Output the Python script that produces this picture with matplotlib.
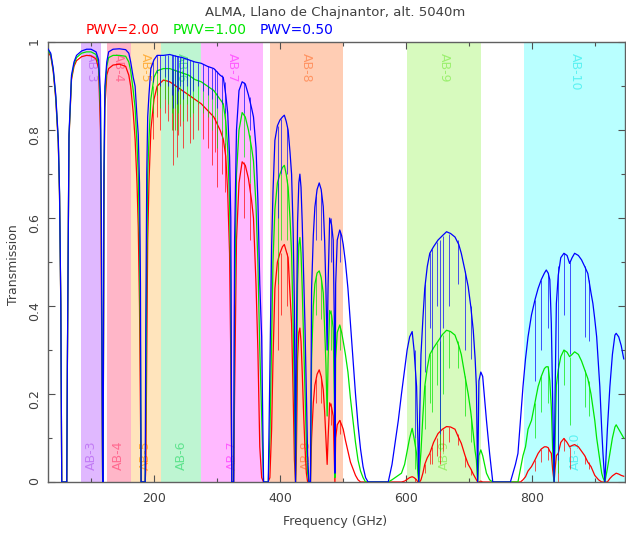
import numpy as np
import matplotlib.pyplot as plt

# ALMA band edges (GHz), names and colours
band_names = ["AB-3", "AB-4", "AB-5", "AB-6", "AB-7", "AB-8", "AB-9", "AB-10"]
band_lo = [84, 125, 163, 211, 275, 385, 602, 787]
band_hi = [116, 163, 211, 275, 373, 500, 720, 950]
band_fill = ["#e0b8ff", "#ffb6c8", "#ffe4bc", "#bef5d2", "#ffb9ff", "#ffcdb4", "#d7fabe", "#b9ffff"]
band_text = ["#c27cf5", "#ff6a90", "#ffb040", "#5fe38e", "#ff5cff", "#ff9463", "#9cf070", "#5cf2f2"]

# transmission (freq in GHz)
freq = [32, 36, 40, 44, 48, 50, 52, 53.5, 61.5, 62.4, 65, 69, 73, 77, 85, 93, 100, 108, 112, 115,
        116.5, 118.3, 119.2, 120.5, 122, 125, 128, 135, 145, 155, 160, 163, 167, 170, 173, 175, 177, 178.5, 179.5, 186,
        187, 188.5, 190, 192, 195, 200, 205, 215, 225, 235, 245, 255, 265, 275, 285, 295, 305, 310, 314, 317,
        320, 322, 323.5, 326.5, 328, 331, 335, 340, 345, 350, 355, 358, 362, 365, 368, 371, 374, 381.5, 384, 386.8,
        389, 392, 396, 400, 404, 407, 410, 413, 416, 418.5, 421, 423, 424.8, 426, 428, 430, 431.7, 433.5, 435.4, 437.5,
        439.7, 442, 444, 446, 448.5, 450.3, 453, 455.5, 459, 462.4, 465.5, 468.8, 471, 473, 475, 476.5, 479, 482, 484.6, 486.5,
        487.3, 488.5, 491, 495, 498, 500.5, 504, 508, 512, 516, 520, 524, 528, 532, 536, 540, 572, 578, 583, 588,
        593, 598, 602, 606, 610, 613, 617, 619, 620.5, 622, 624, 627, 630, 634, 638, 644, 651, 658, 664.6, 671,
        678, 684, 688, 694, 699, 703, 707, 710, 712, 714, 716, 719, 722, 725, 728, 733, 738, 766, 770, 774,
        778, 782, 786, 790, 794, 799.5, 805, 810, 815, 820, 823, 826, 828.6, 831, 833, 835.4, 837, 839, 842, 846,
        851, 856, 860, 864, 868, 874, 879, 884, 889, 894, 897, 900, 903, 906, 908, 911, 913, 916, 920, 924,
        928, 932, 934, 938, 942, 946]

t_pwv050 = [.984, .975, .94, .88, .78, .66, .41, 0, 0, .26, .79, .925, .955, .97, .98, .984, .984, .978, .96, .88,
            .60, 0, 0, .70, .90, .955, .978, .984, .985, .983, .975, .955, .92, .90, .83, .79, .68, .45, 0, 0,
            .35, .70, .83, .88, .94, .96, .97, .97, .972, .968, .965, .96, .955, .952, .945, .94, .925, .92, .88, .84,
            .74, .60, 0, 0, .55, .80, .89, .91, .905, .88, .85, .83, .76, .64, .45, .33, 0, 0, .25, .535,
            .66, .777, .81, .823, .83, .834, .82, .80, .75, .70, .57, .40, 0, .30, .59, .68, .70, .67, .59, .48,
            .36, .20, .06, 0, 0, .44, .56, .625, .665, .68, .665, .626, .55, .44, .30, .45, .60, .585, .55, .35,
            .02, .45, .55, .573, .56, .54, .50, .44, .36, .28, .20, .13, .075, .035, .01, 0, 0, .04, .09, .14,
            .20, .255, .30, .33, .342, .30, .217, .10, 0, .15, .29, .37, .44, .49, .52, .535, .55, .56, .569, .565,
            .557, .54, .52, .48, .444, .40, .345, .28, .217, 0, .23, .25, .24, .19, .14, .065, 0, 0, .02, .04,
            .065, .14, .217, .28, .33, .38, .414, .44, .46, .475, .482, .475, .46, .36, .20, 0, .20, .406, .47, .51,
            .52, .515, .497, .51, .52, .515, .505, .49, .474, .43, .406, .37, .33, .26, .217, .12, .065, 0, .12, .217,
            .29, .334, .338, .33, .31, .28]

t_pwv100 = [.982, .972, .937, .875, .775, .655, .405, 0, 0, .255, .785, .92, .95, .965, .975, .978, .978, .972, .95, .85,
            .55, 0, 0, .68, .88, .945, .965, .97, .97, .968, .955, .935, .89, .85, .77, .70, .55, .30, 0, 0,
            .15, .50, .70, .78, .87, .92, .935, .94, .94, .935, .93, .925, .915, .91, .90, .89, .87, .86, .82, .76,
            .64, .45, 0, 0, .40, .70, .80, .84, .83, .80, .76, .73, .63, .50, .30, .15, 0, 0, .10, .33,
            .50, .62, .68, .70, .715, .72, .70, .67, .60, .52, .36, .20, 0, .15, .45, .54, .556, .52, .44, .33,
            .21, .09, .02, 0, 0, .28, .40, .45, .475, .48, .465, .43, .35, .27, .15, .28, .39, .38, .35, .18,
            .01, .28, .34, .357, .34, .32, .29, .25, .19, .14, .09, .05, .025, .01, 0, 0, 0, .005, .01, .015,
            .02, .04, .07, .10, .122, .10, .065, .02, 0, .03, .07, .15, .217, .26, .29, .305, .32, .335, .345, .342,
            .334, .31, .29, .24, .20, .16, .11, .07, .05, 0, .06, .073, .06, .04, .02, .005, 0, 0, 0, 0,
            0, .03, .06, .08, .12, .14, .18, .217, .24, .258, .262, .262, .23, .17, .08, 0, .10, .22, .255, .285,
            .30, .295, .285, .29, .296, .29, .275, .255, .235, .20, .17, .14, .10, .07, .05, .02, .01, 0, .03, .065,
            .10, .125, .13, .12, .11, .10]

t_pwv200 = [.978, .968, .933, .87, .77, .65, .40, 0, 0, .25, .78, .915, .945, .958, .967, .970, .969, .962, .94, .80,
            .45, 0, 0, .62, .85, .925, .94, .948, .95, .945, .925, .90, .84, .78, .68, .58, .40, .15, 0, 0,
            .03, .30, .55, .68, .80, .87, .90, .914, .91, .90, .89, .88, .87, .86, .845, .83, .80, .78, .74, .66,
            .52, .28, 0, 0, .20, .55, .68, .728, .72, .69, .64, .60, .45, .30, .08, .01, 0, 0, .01, .12,
            .28, .44, .50, .52, .535, .54, .525, .51, .43, .36, .20, .05, 0, .05, .28, .34, .35, .32, .25, .16,
            .08, .02, 0, 0, 0, .10, .18, .22, .245, .255, .24, .21, .16, .10, .04, .10, .18, .17, .15, .05,
            0, .10, .13, .14, .13, .12, .095, .07, .045, .03, .015, .005, 0, 0, 0, 0, 0, 0, 0, 0,
            0, .002, .006, .01, .012, .01, .005, 0, 0, 0, .005, .02, .04, .055, .065, .09, .11, .12, .126, .125,
            .12, .10, .088, .06, .04, .03, .018, .01, .005, 0, 0, .002, 0, 0, 0, 0, 0, 0, 0, 0,
            0, 0, .005, .012, .025, .035, .05, .065, .075, .08, .08, .078, .07, .065, .03, 0, .03, .06, .065, .09,
            .099, .09, .08, .083, .085, .08, .07, .06, .045, .035, .025, .015, .01, .005, .003, 0, 0, 0, 0, .008,
            .014, .018, .02, .018, .015, .013]

# narrow absorption lines: frequency, then top/bottom of each dip per PWV
line_freq = [198, 204, 209.5, 217.5, 222.8, 228, 230.7, 233.4, 236, 238.6, 242, 246.6, 251.9, 257.2, 262.4,
             270.4, 278.3, 286.2, 291.5, 296.8, 299.5, 307.4, 312, 343, 352, 397, 401.5, 412, 457, 466,
             480.5, 496, 614, 631, 638.5, 642, 649, 654, 659, 669, 682, 694, 704, 805, 815, 826, 841, 851,
             861, 884, 891]
line_top_050 = [.955, .97, .97, .97, .972, .972, .97, .97, .968, .968, .966, .965, .963, .96, .957,
                .953, .95, .945, .942, .94, .935, .925, .91, .91, .875, .81, .825, .81, .65, .66,
                .60, .57, .30, .45, .52, .53, .545, .55, .56, .565, .55, .48, .40, .414, .46, .475, .49, .52,
                .50, .49, .46]
line_bot_050 = [.91, .93, .90, .92, .90, .88, .85, .90, .86, .89, .90, .87, .90, .88, .89,
                .90, .89, .88, .87, .89, .85, .86, .84, .84, .80, .60, .70, .70, .55, .55,
                .50, .50, .10, .25, .35, .30, .40, .11, .35, .40, .45, .30, .28, .23, .30, .35, .05, .38,
                .29, .33, .32]
line_top_100 = [.90, .935, .938, .94, .94, .94, .94, .937, .935, .934, .932, .93, .928, .925, .92,
                .912, .908, .90, .895, .89, .885, .87, .85, .84, .79, .68, .70, .69, .465, .46,
                .39, .355, .10, .22, .29, .30, .315, .32, .335, .343, .32, .24, .15, .18, .24, .262, .27, .30,
                .285, .255, .23]
line_bot_100 = [.84, .88, .85, .87, .86, .84, .80, .85, .80, .84, .86, .82, .86, .83, .84,
                .86, .84, .83, .80, .83, .76, .78, .76, .74, .68, .45, .55, .55, .38, .37,
                .30, .30, .03, .12, .18, .16, .22, .07, .20, .26, .26, .15, .09, .10, .16, .18, .02, .22,
                .13, .17, .15]
line_top_200 = [.86, .90, .91, .914, .912, .91, .91, .905, .90, .90, .895, .89, .885, .88, .875,
                .865, .855, .845, .838, .83, .82, .80, .77, .727, .68, .50, .52, .52, .235, .24,
                .18, .14, .01, .04, .065, .08, .10, .11, .12, .125, .11, .06, .03, .05, .075, .078, .07, .099,
                .08, .06, .045]
line_bot_200 = [.78, .83, .80, .84, .82, .80, .72, .80, .74, .79, .81, .76, .82, .77, .78,
                .80, .78, .76, .72, .75, .67, .70, .66, .60, .55, .30, .38, .40, .18, .18,
                .13, .11, 0, .02, .04, .04, .06, .04, .07, .09, .085, .035, .015, .025, .045, .05, 0, .07,
                .03, .04, .03]

pwv_labels = ["PWV=2.00", "PWV=1.00", "PWV=0.50"]
pwv_colors = ["#ff0000", "#00e600", "#0000ff"]

fig = plt.figure(figsize=(6.26, 5.34), dpi=100)
ax = fig.add_axes([0.0767, 0.0974, 0.9213, 0.8236])

for lo, hi, fc in zip(band_lo, band_hi, band_fill):
    ax.axvspan(lo, hi, color=fc, lw=0, zorder=0)

for name, lo, hi, tc in zip(band_names, band_lo, band_hi, band_text):
    mid = (lo + hi) / 2
    ax.text(mid, 0.975, name, rotation=-90, ha="center", va="top", color=tc, fontsize=9, zorder=1)
    ax.text(mid, 0.028, name, rotation=90, ha="center", va="bottom", color=tc, fontsize=9, zorder=1)

curves = [t_pwv200, t_pwv100, t_pwv050]
tops = [line_top_200, line_top_100, line_top_050]
bots = [line_bot_200, line_bot_100, line_bot_050]
for i, (t, top, bot, c) in enumerate(zip(curves, tops, bots, pwv_colors)):
    ax.plot(freq, t, color=c, lw=0.9, zorder=2 + i)
    ax.vlines(line_freq, bot, top, color=c, lw=0.6, alpha=0.8, zorder=2 + i)

ax.set_xlim(31.7, 947.6)
ax.set_ylim(0, 1)
ax.set_xticks([200, 400, 600, 800])
ax.set_xticks(np.arange(100, 901, 100), minor=True)
ax.set_yticks([0, 0.2, 0.4, 0.6, 0.8, 1.0])
ax.set_yticklabels(["0", "0.2", "0.4", "0.6", "0.8", "1"])
ax.set_yticks(np.arange(0.1, 1.0, 0.2), minor=True)
ax.tick_params(which="both", direction="in", top=True, right=True, colors="#505050",
               labelcolor="#404040", labelsize=9, width=0.8)
ax.tick_params(which="major", length=5)
ax.tick_params(which="minor", length=3)
ax.tick_params(axis="y", labelrotation=90, pad=5)
ax.tick_params(axis="x", pad=7)
for sp in ax.spines.values():
    sp.set_color("#606060")
    sp.set_linewidth(1.0)

fig.text(0.535, 0.977, "ALMA, Llano de Chajnantor, alt. 5040m", ha="center", va="center",
         fontsize=9.5, color="#404040")
for x0, lab, c in zip([0.136, 0.275, 0.415], pwv_labels, pwv_colors):
    fig.text(x0, 0.944, lab, ha="left", va="center", fontsize=10, color=c)
fig.text(0.535, 0.024, "Frequency (GHz)", ha="center", va="center", fontsize=9, color="#404040")
fig.text(0.021, 0.504, "Transmission", rotation=90, ha="center", va="center", fontsize=9, color="#404040")

fig.savefig("out.png", dpi=100)
